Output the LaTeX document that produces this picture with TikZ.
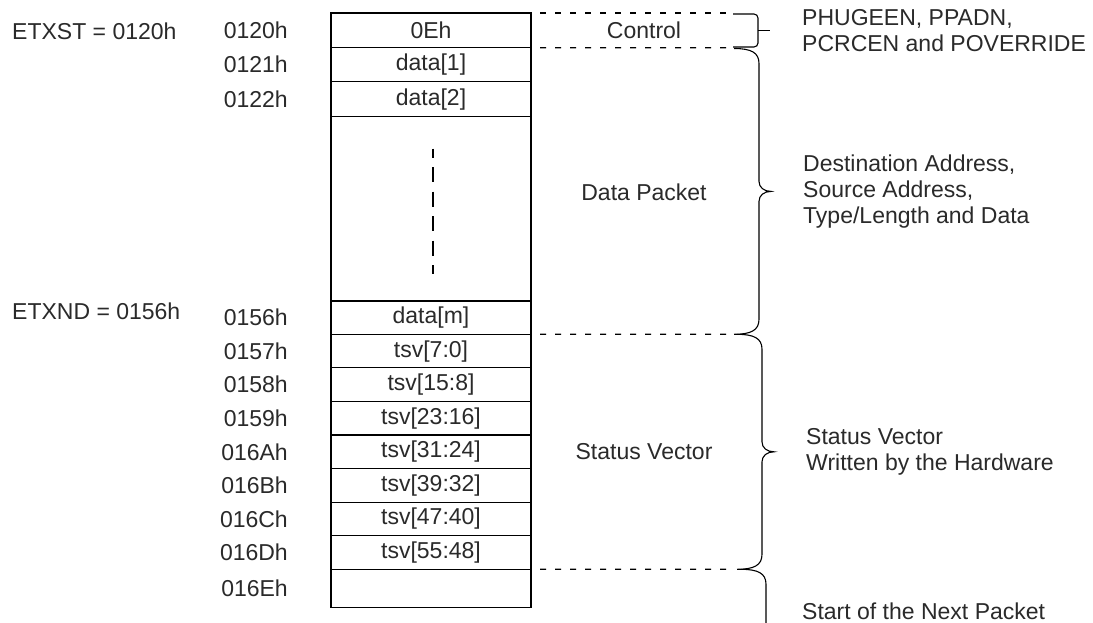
\documentclass[tikz,border=0pt]{standalone}
\usepackage{fontspec}
\setmainfont{Liberation Sans}
\usetikzlibrary{positioning}
\definecolor{BufInk}{HTML}{2A2A2A}

% curly brace: stem x, top y, bottom y, name of the tip
\newcommand{\bufbrace}[4]{%
  \draw[bracket] ({#1-25},#2) .. controls ({#1-8},#2) and (#1,{#2+4}) .. (#1,{#2+15})
    -- (#1,{(#2+#3)/2-10}) .. controls (#1,{(#2+#3)/2-4}) and ({#1+5},{(#2+#3)/2}) .. ({#1+12},{(#2+#3)/2})
    .. controls ({#1+5},{(#2+#3)/2}) and (#1,{(#2+#3)/2+4}) .. (#1,{(#2+#3)/2+10})
    -- (#1,{#3-15}) .. controls (#1,{#3-4}) and ({#1-8},#3) .. ({#1-25},#3);
  \coordinate (#4) at ({#1+12},{(#2+#3)/2});}

\begin{document}
\begin{tikzpicture}[x=1pt,y=-1pt,
    font=\fontsize{23pt}{26pt}\selectfont,
    cell/.style={draw, line width=1.1pt, minimum width=200pt, inner sep=0pt, outer sep=0pt, anchor=north west, text=BufInk},
    addr/.style={inner sep=0pt, text=BufInk},
    region/.style={inner sep=0pt, text=BufInk},
    note/.style={inner sep=0pt, align=left, anchor=west, text=BufInk},
    guide/.style={line width=1.2pt, dash pattern=on 6pt off 9pt},
    bracket/.style={line width=1.1pt}]
  \fill[white] (0,0) rectangle (1093,622);
  \useasboundingbox (0,0) rectangle (1093,622);
  \clip (0,0) rectangle (1093,622);

  % Control byte and data bytes
  \node[cell, minimum height=34.7pt] (ctl) at (331,13) {0Eh};
  \node[cell, minimum height=34pt] (d1) at (ctl.south west) {data[1]};
  \node[cell, minimum height=35pt] (d2) at (d1.south west) {data[2]};
  \node[cell, minimum height=184.3pt] (gap) at (d2.south west) {};
  \node[cell, minimum height=33.3pt] (dm) at (gap.south west) {data[m]};
  \draw[line width=1.1pt, dash pattern=on 15pt off 9.5pt, dash phase=6pt]
    ([xshift=2pt,yshift=-32pt]gap.north) -- ([xshift=2pt,yshift=27pt]gap.south);

  % Status vector
  \foreach \bits/\adr [count=\i from 0] in {7:0/0157h, 15:8/0158h, 23:16/0159h, 31:24/016Ah, 39:32/016Bh, 47:40/016Ch, 55:48/016Dh} {
    \node[cell, minimum height=33.57pt] (tsv\i) at (331,{334.3+33.57*\i}) {tsv[\bits]};
    \node[addr, left=43pt of tsv\i.west] (adr\i) {\adr};
  }
  \node[cell, minimum height=38pt] (nxt) at (tsv6.south west) {};

  % Addresses
  \node[addr, left=43pt of ctl.west] (adr-ctl) {0120h};
  \node[addr, left=43pt of d1.west] (adr-d1) {0121h};
  \node[addr, left=43pt of d2.west] (adr-d2) {0122h};
  \node[addr, left=43pt of dm.west] (adr-dm) {0156h};
  \node[addr, left=43pt of nxt.west] (adr-nxt) {016Eh};
  \node[addr, anchor=west] (etxst) at (12,31) {ETXST = 0120h};
  \node[addr, anchor=west] (etxnd) at (12,311) {ETXND = 0156h};

  % Guides to the braces
  \coordinate (ctl-top) at (727,13);
  \coordinate (ctl-bot) at (727,47.7);
  \coordinate (tsv-top) at (727,334.3);
  \coordinate (tsv-bot) at (727,569.3);
  \draw[guide] ([xshift=9pt]ctl.north east) -- (ctl-top);
  \draw[guide] ([xshift=9pt]ctl.south east) -- (ctl-bot);
  \draw[guide] ([xshift=9pt]dm.south east) -- (tsv-top);
  \draw[guide] ([xshift=9pt]tsv6.south east) -- (tsv-bot);

  % Braces
  \draw[bracket, rounded corners=4pt] (733,14) -- (758,14) -- (758,47) -- (733,47);
  \coordinate (ctl-tip) at (770,30.5);
  \draw[bracket] (758,30.5) -- (ctl-tip);
  \bufbrace{759}{48.5}{334.3}{pkt-tip}
  \bufbrace{762}{334.3}{569.3}{tsv-tip}
  \bufbrace{766}{569.3}{720}{nxt-tip}

  % Region names
  \node[region] (ctl-name) at (644,30.5) {Control};
  \node[region] (pkt-name) at (644,192) {Data Packet};
  \node[region] (tsv-name) at (644,452) {Status Vector};

  % Notes
  \node[note, right=32pt of ctl-tip] (ctl-note) {PHUGEEN, PPADN,\\PCRCEN and POVERRIDE};
  \node[note, right=32pt of pkt-tip] (pkt-note) {Destination Address,\\Source Address,\\Type/Length and Data};
  \node[note, right=32pt of tsv-tip] (tsv-note) {Status Vector\\Written by the Hardware};
  \node[note] (nxt-note) at (802,611) {Start of the Next Packet};
\end{tikzpicture}
\end{document}
